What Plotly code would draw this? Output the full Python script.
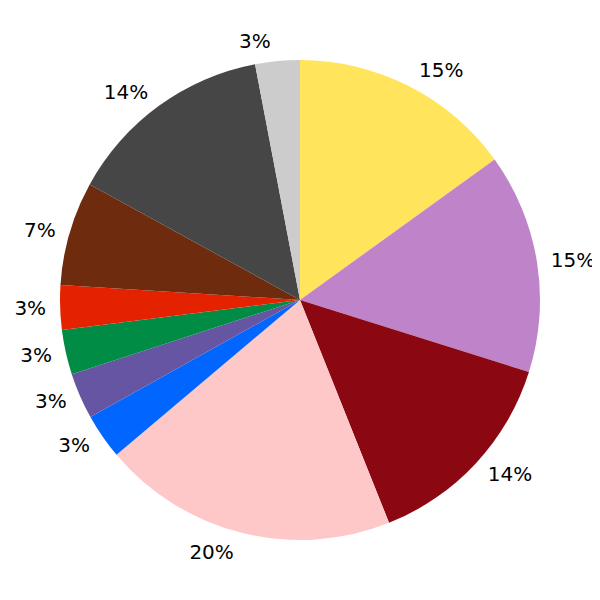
import plotly.graph_objects as go

labels = ["A", "B", "C", "D", "E", "F", "G", "H", "I", "J", "K"]
values = [15.05, 14.8, 14.1, 19.9, 3.05, 3.1, 3.0, 3.0, 7.0, 14.0, 3.0]
colors = ["#FFE45C", "#BF83C9", "#8B0812", "#FFC8C8", "#0066FF", "#6655A2",
          "#008C44", "#E52200", "#6E2B0E", "#464646", "#CCCCCC"]

inner = 8 / 496

fig = go.Figure()
# visible pie
fig.add_trace(go.Pie(
    labels=labels,
    values=values,
    sort=False,
    direction="clockwise",
    rotation=0,
    marker=dict(colors=colors, line=dict(width=0)),
    textinfo="none",
    showlegend=False,
    hoverinfo="label+percent",
    domain=dict(x=[inner, 1 - inner], y=[inner, 1 - inner]),
))
# transparent, slightly larger pie that carries the outside percentage labels
fig.add_trace(go.Pie(
    labels=labels,
    values=values,
    sort=False,
    direction="clockwise",
    rotation=0,
    marker=dict(colors=["rgba(0,0,0,0)"] * len(values), line=dict(width=0)),
    textposition="outside",
    texttemplate="%{percent:.0%}",
    textfont=dict(family="DejaVu Sans", size=20, color="#000000"),
    showlegend=False,
    hoverinfo="skip",
    domain=dict(x=[0, 1], y=[0, 1]),
))
fig.update_layout(
    width=600, height=600,
    margin=dict(l=44, r=60, t=44, b=60),
    paper_bgcolor="white",
    plot_bgcolor="white",
)
fig.write_html("out.html")
